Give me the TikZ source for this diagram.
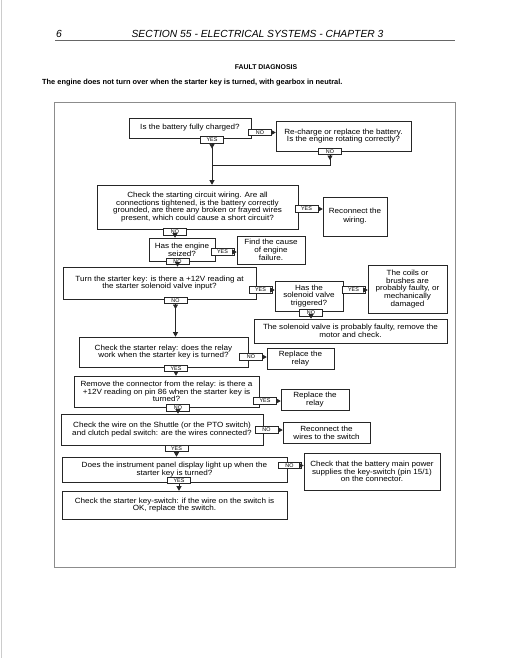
\documentclass[tikz,border=0pt]{standalone}
\usepackage{fontspec}
\setmainfont{Liberation Sans}
\newfontfamily\boxfont[FakeStretch=1.08]{Liberation Sans}
\usetikzlibrary{arrows.meta,decorations.markings}
\begin{document}
\begin{tikzpicture}[x=1pt,y=-1pt,
  box/.style={draw=black!85, line width=0.6pt, fill=white, inner sep=0pt, align=center, font=\boxfont\fontsize{7.5}{7.7}\selectfont},
  lab/.style={draw=black!85, line width=0.6pt, fill=white, inner sep=0pt, minimum width=23pt, minimum height=6.5pt, font=\fontsize{5.4}{5}\selectfont},
  conn/.style={line width=0.6pt, draw=black!85, -{Triangle[length=4.5pt,width=5pt]}},
  midtip/.style={postaction={decorate}, decoration={markings, mark=at position 5pt with {\arrow{Triangle[length=4.5pt,width=5pt]}}}},
  wh/.style 2 args={minimum width=#1pt, minimum height=#2pt},
  hdr/.style={inner sep=0pt},
]
\useasboundingbox (0,0) rectangle (510,658);
\fill[white] (0,0) rectangle (510,658);
% page edge and frame
\draw[black!20, line width=0.8pt] (1.5,0) -- (1.5,658);
\draw[black!45, line width=0.8pt] (54,102) rectangle (455,567);
% header
\node[hdr, font=\fontsize{10.3}{12}\selectfont\itshape, anchor=base west] (pg) at (56,37.5) {6};
\node[hdr, font=\fontsize{10.3}{12}\selectfont\itshape, anchor=base] (hd) at (257.5,37.5) {SECTION 55 - ELECTRICAL SYSTEMS - CHAPTER 3};
\draw[black!60, line width=0.9pt] (55,40) -- (455,40);
\node[hdr, font=\fontsize{6.9}{8}\selectfont\bfseries, anchor=base] (fd) at (266,70) {FAULT DIAGNOSIS};
\node[hdr, font=\fontsize{7.4}{8}\selectfont\bfseries, anchor=base west] (sub) at (42,84.5) {The engine does not turn over when the starter key is turned, with gearbox in neutral.};

% boxes
\node[box, wh={122}{20}] (b1) at (190,128) {Is the battery fully charged?};
\node[box, wh={135}{30}] (b2) at (343.5,136) {Re-charge or replace the battery.\\Is the engine rotating correctly?};
\node[box, wh={201}{44}] (b3) at (197.5,207) {Check the starting circuit wiring. Are all\\connections tightened, is the battery correctly\\grounded, are there any broken or frayed wires\\present, which could cause a short circuit?};
\node[box, wh={64}{39}, font=\boxfont\fontsize{7.5}{9}\selectfont] (b4) at (355,216.5) {Reconnect the\\wiring.};
\node[box, wh={66}{23}] (b5) at (182,249.5) {Has the engine\\seized?};
\node[box, wh={68}{28}] (b6) at (271,250) {Find the cause\\of engine\\failure.};
\node[box, wh={193}{32}] (b7) at (159.5,283) {Turn the starter key: is there a +12V reading at\\the starter solenoid valve input?};
\node[box, wh={68}{30}] (b8) at (309,296) {Has the\\solenoid valve\\triggered?};
\node[box, wh={79}{48}] (b9) at (407.5,289) {The coils or\\brushes are\\probably faulty, or\\mechanically\\damaged};
\node[box, wh={193}{24}] (b10) at (350.5,331) {The solenoid valve is probably faulty, remove the\\motor and check.};
\node[box, wh={169}{30}] (b11) at (163.5,352) {Check the starter relay: does the relay\\work when the starter key is turned?};
\node[box, wh={67}{21}] (b12) at (300.5,358.5) {Replace the\\relay};
\node[box, wh={185}{31}] (b13) at (166.5,391.5) {Remove the connector from the relay: is there a\\+12V reading on pin 86 when the starter key is\\turned?};
\node[box, wh={68}{21}] (b14) at (315,399.5) {Replace the\\relay};
\node[box, wh={202}{31}] (b15) at (162,429.5) {Check the wire on the Shuttle (or the PTO switch)\\and clutch pedal switch: are the wires connected?};
\node[box, wh={87}{21}] (b16) at (326.5,432.5) {Reconnect the\\wires to the switch};
\node[box, wh={225}{25}] (b17) at (174.5,469.5) {Does the instrument panel display light up when the\\starter key is turned?};
\node[box, wh={136}{37}] (b18) at (372,471.5) {Check that the battery main power\\supplies the key-switch (pin 15/1)\\on the connector.};
\node[box, wh={225}{28}] (b19) at (174.5,505) {Check the starter key-switch: if the wire on the switch is\\OK, replace the switch.};

% labels
\node[lab] (l1) at (212,140) {YES};
\node[lab] (l2) at (260,132.5) {NO};
\node[lab] (l3) at (330,151.5) {NO};
\node[lab] (l4) at (306.5,209) {YES};
\node[lab] (l5) at (175,232) {NO};
\node[lab] (l6) at (222.5,252) {YES};
\node[lab] (l7) at (177.5,261.5) {NO};
\node[lab] (l8) at (260.5,290) {YES};
\node[lab] (l9) at (353.5,290) {YES};
\node[lab] (l10) at (311,313) {NO};
\node[lab] (l11) at (175.5,300.5) {NO};
\node[lab] (l12) at (251,357) {NO};
\node[lab] (l13) at (176,368.5) {YES};
\node[lab] (l14) at (265,401) {YES};
\node[lab] (l15) at (178,408) {NO};
\node[lab] (l16) at (266.5,430) {NO};
\node[lab] (l17) at (176.5,448.5) {YES};
\node[lab] (l18) at (289.5,465.5) {NO};
\node[lab] (l19) at (179,480.5) {YES};

% connectors
\coordinate (j1) at (330,165);
\draw[conn, midtip] (l1.south) -- (l1.south |- b3.north);
\draw[line width=0.6pt, draw=black!85, midtip] (l3.south) -- (j1) -- (l1.south |- j1);
\draw[conn] (l2.east) -- (l2.east -| b2.west);
\draw[conn] (l4.east) -- (l4.east -| b4.west);
\draw[conn] (l5.south) -- (l5.south |- b5.north);
\draw[conn] (l6.east) -- (l6.east -| b6.west);
\draw[conn] (l7.south) -- (l7.south |- b7.north);
\draw[conn] (l8.east) -- (l8.east -| b8.west);
\draw[conn] (l9.east) -- (l9.east -| b9.west);
\draw[conn] (l10.south) -- (l10.south |- b10.north);
\draw[conn, midtip] (l11.south) -- (l11.south |- b11.north);
\draw[conn] (l12.east) -- (l12.east -| b12.west);
\draw[conn] (l13.south) -- (l13.south |- b13.north);
\draw[conn] (l14.east) -- (l14.east -| b14.west);
\draw[conn] (l15.south) -- (l15.south |- b15.north);
\draw[conn] (l16.east) -- (l16.east -| b16.west);
\draw[conn] (l17.south) -- (l17.south |- b17.north);
\draw[conn] (l18.east) -- (l18.east -| b18.west);
\draw[conn] (l19.south) -- (l19.south |- b19.north);
\end{tikzpicture}
\end{document}
